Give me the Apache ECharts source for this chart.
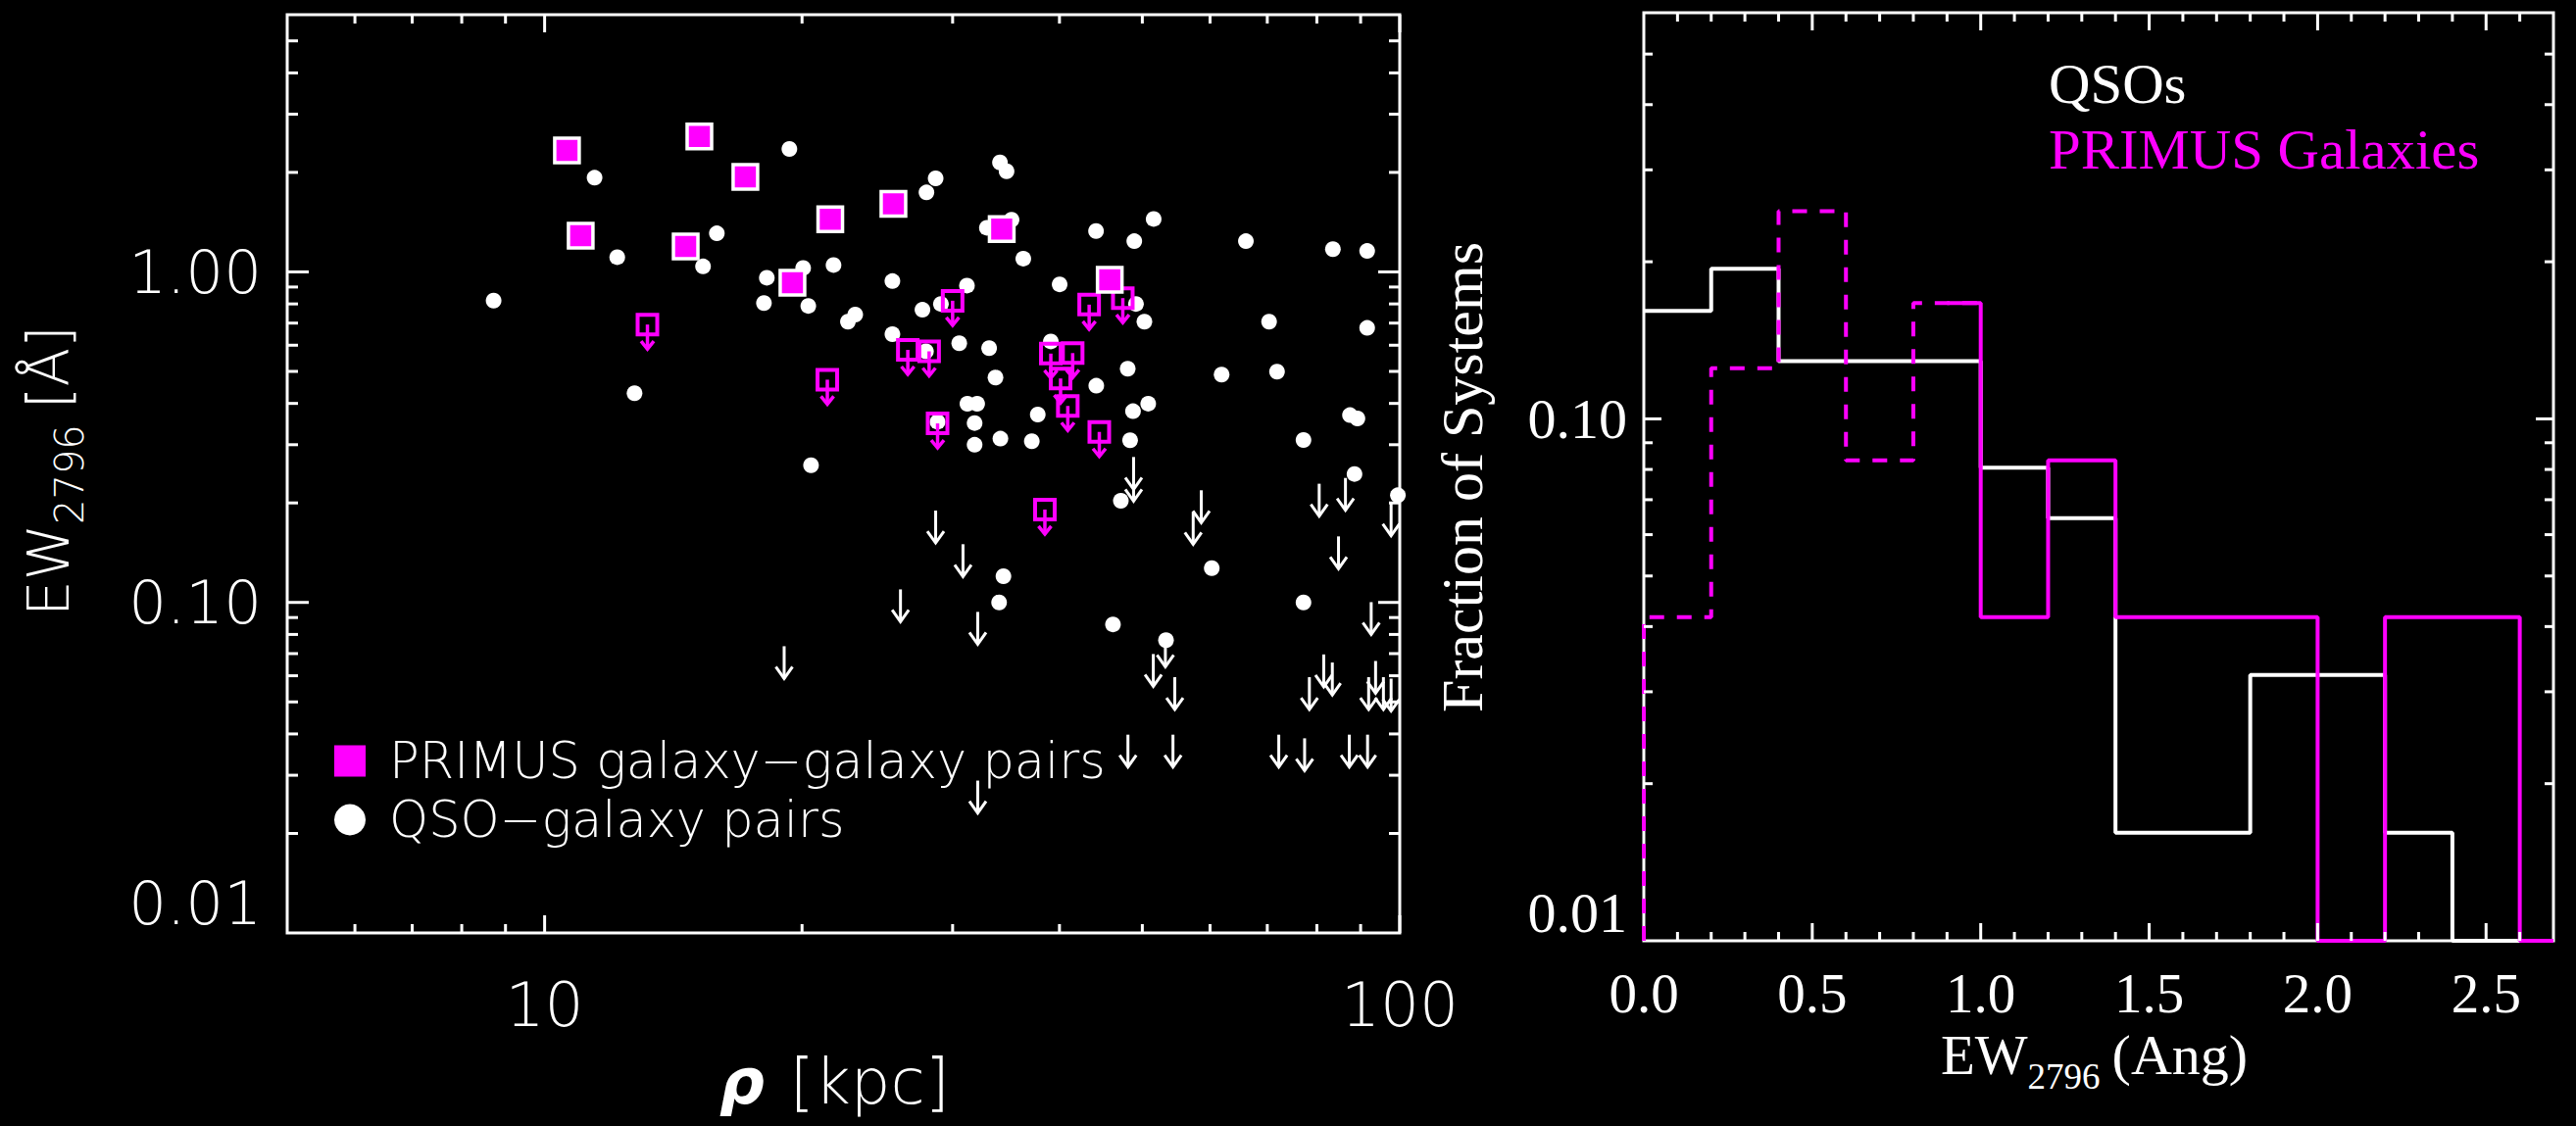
<!DOCTYPE html>
<html>
<head>
<meta charset="utf-8">
<script src="https://cdn.jsdelivr.net/npm/echarts@6/dist/echarts.min.js"></script>
<style>
html,body{margin:0;padding:0;background:#000;}
#chart{width:2628px;height:1149px;}
</style>
</head>
<body>
<div id="chart"></div>
<script>
// ================= DATA =================
// Left panel: impact parameter rho [kpc] vs EW2796 [Å]
const primusDetRho = [10.62, 15.17, 17.17, 11.02, 14.62, 21.58, 25.58, 19.49, 34.24, 45.8];
const primusDetEW  = [2.33, 2.57, 1.94, 1.288, 1.194, 1.443, 1.606, 0.928, 1.347, 0.947];

const primusLimRho = [13.19, 21.41, 26.59, 28.16, 30.0, 28.81, 43.33, 47.44, 39.08, 41.45, 40.12, 40.91, 44.53, 38.46];
const primusLimEW  = [0.693, 0.472, 0.581, 0.575, 0.818, 0.348, 0.796, 0.833, 0.566, 0.568, 0.476, 0.393, 0.328, 0.191];

const qsoDetRho = [11.44, 12.16, 8.717, 15.9, 15.32, 19.33, 18.19, 18.05, 20.06, 20.34,
                   21.77, 23.08, 22.63, 28.66, 27.96, 25.51, 25.51, 27.66, 29.07, 31.18,
                   30.54, 27.92, 12.74, 20.49, 31.22, 32.05, 31.83, 31.83, 28.81, 34.08,
                   34.69, 35.16, 32.9, 36.29, 44.14, 48.93, 51.55, 66.08, 83.53, 91.6,
                   40.02, 49.15, 50.28, 70.34, 91.6, 33.1, 39.08, 33.67, 48.07, 44.17,
                   61.9, 71.86, 34.12, 37.13, 37.73, 48.76, 50.8, 48.38, 87.46, 89.23,
                   77.17, 88.53, 99.5, 34.4, 34.0, 47.19, 46.2, 53.29, 60.28, 77.17];
const qsoDetEW  = [1.927, 1.108, 0.819, 1.308, 1.039, 2.354, 0.96, 0.805, 1.028, 0.789,
                   1.049, 0.743, 0.707, 1.918, 1.74, 0.938, 0.648, 0.768, 0.8, 0.909,
                   0.6085, 0.575, 0.4295, 0.26, 0.399, 0.399, 0.349, 0.300, 0.352, 2.144,
                   2.016, 1.439, 1.36, 1.097, 1.329, 1.239, 1.446, 1.239, 1.172, 1.157,
                   0.917, 0.8, 0.707, 0.707, 0.677, 0.588, 0.616, 0.479, 0.5095, 0.4526,
                   0.489, 0.499, 0.313, 0.3073, 0.3703, 0.379, 0.3993, 0.3094, 0.3687, 0.3602,
                   0.31, 0.2447, 0.211, 0.12, 0.1, 0.203, 0.0858, 0.0769, 0.127, 0.1];

const qsoLimRho = [28.66, 30.85, 26.07, 32.1, 19.06, 32.1, 48.84, 48.84, 58.6, 57.34,
                   80.5, 86.4, 97.7, 84.8, 92.6, 53.2, 51.5, 54.57, 48.1, 54.3,
                   81.5, 83.4, 78.4, 93.7, 91.97, 95.7, 97.7, 72.2, 77.4, 87.3, 91.7];
const qsoLimEW  = [0.1896, 0.150, 0.1095, 0.0936, 0.0737, 0.0289, 0.2754, 0.2538, 0.2184, 0.1879,
                   0.2286, 0.238, 0.1994, 0.1584, 0.1002, 0.080, 0.0698, 0.0594, 0.0398, 0.0398,
                   0.0696, 0.0658, 0.0594, 0.0665, 0.0594, 0.0594, 0.0588, 0.0398, 0.0388, 0.0398, 0.0398];

// Right panel: histograms of EW2796 (bin starts and fractions)
const qsoBinStarts   = [0.0, 0.2, 0.4, 0.6, 0.8, 1.0, 1.2, 1.4, 1.6, 1.8, 2.0, 2.2, 2.4, 2.6];
const qsoFraction    = [0.161, 0.194, 0.129, 0.129, 0.129, 0.0806, 0.0645, 0.0161, 0.0161, 0.0323, 0.0323, 0.0161, 0, 0];
const primusAllBinStarts = [0.0, 0.2, 0.4, 0.6, 0.8];
const primusAllFraction  = [0.0417, 0.125, 0.25, 0.0833, 0.1667];
const primusAllEnd = 1.0;
const primusDetBinStarts = [0.9, 1.0, 1.2, 1.4, 1.6, 1.8, 2.0, 2.2, 2.4, 2.6];
const primusDetFraction  = [0.1667, 0.0417, 0.0833, 0.0417, 0.0417, 0.0417, 0, 0.0417, 0.0417, 0];
const histEnd = 2.7;

// Tick values and labels
const leftXLabelVals = [10, 100];
const leftXLabels    = ['10', '100'];
const leftYLabelVals = [0.01, 0.1, 1];
const leftYLabels    = ['0.01', '0.10', '1.00'];
const leftXMajorTicks = [10, 100];
const leftXMinorTicks = [6, 7, 8, 9, 20, 30, 40, 50, 60, 70, 80, 90];
const leftYMajorTicks = [0.1, 1];
const leftYMinorTicks = [0.02, 0.03, 0.04, 0.05, 0.06, 0.07, 0.08, 0.09, 0.2, 0.3, 0.4, 0.5, 0.6, 0.7, 0.8, 0.9, 2, 3, 4, 5];

const rightXLabelVals = [0, 0.5, 1.0, 1.5, 2.0, 2.5];
const rightXLabels    = ['0.0', '0.5', '1.0', '1.5', '2.0', '2.5'];
const rightYLabelVals = [0.01, 0.1];
const rightYLabels    = ['0.01', '0.10'];
const rightXMajorTicks = [0.5, 1.0, 1.5, 2.0, 2.5];
const rightXMinorTicks = [0.1, 0.2, 0.3, 0.4, 0.6, 0.7, 0.8, 0.9, 1.1, 1.2, 1.3, 1.4, 1.6, 1.7, 1.8, 1.9, 2.1, 2.2, 2.3, 2.4, 2.6];
const rightYMajorTicks = [0.1];
const rightYMinorTicks = [0.02, 0.03, 0.04, 0.05, 0.06, 0.07, 0.08, 0.09, 0.2, 0.3, 0.4, 0.5];

// ================= CHART =================
const WHITE = '#ffffff';
const MAG = '#ff00ff';
const SANS = '"DejaVu Sans"';
const SANSW = 200;
const SERIF = '"Liberation Serif", "Times New Roman", serif';

const L = {xMin: 5, xMax: 100, yMin: 0.01, yMax: 6};
const R = {xMin: 0, xMax: 2.7, yMin: 0.01, yMax: 0.6};

function fmt(vals, labels) {
  return function (v) {
    for (let i = 0; i < vals.length; i++) {
      if (Math.abs(v - vals[i]) <= 1e-6 * Math.abs(vals[i]) + 1e-9) return labels[i];
    }
    return '';
  };
}

function zip(a, b) { return a.map((v, i) => [v, b[i]]); }

function stepData(starts, vals, end, floor, lead) {
  const d = [];
  if (lead) d.push([starts[0], floor]);
  starts.forEach((s, i) => d.push([s, vals[i] > 0 ? vals[i] : floor]));
  const last = vals[vals.length - 1];
  d.push([end, last > 0 ? last : floor]);
  return d;
}

function tickSeries(gi, rng, xMaj, xMin, yMaj, yMin, xLen, yLen) {
  const data = [];
  xMaj.forEach(v => data.push([v, rng.yMin, 0, 1]));
  xMin.forEach(v => data.push([v, rng.yMin, 0, 0]));
  yMaj.forEach(v => data.push([rng.xMin, v, 1, 1]));
  yMin.forEach(v => data.push([rng.xMin, v, 1, 0]));
  return {
    type: 'custom', xAxisIndex: gi, yAxisIndex: gi, silent: true, z: 10,
    encode: {x: 0, y: 1},
    data: data,
    renderItem: function (params, api) {
      const isY = api.value(2) === 1;
      const maj = api.value(3) === 1;
      const st = {stroke: WHITE, lineWidth: 3};
      if (!isY) {
        const v = api.value(0);
        const b = api.coord([v, rng.yMin]);
        const t = api.coord([v, rng.yMax]);
        const len = maj ? xLen[0] : xLen[1];
        return {type: 'group', children: [
          {type: 'line', shape: {x1: b[0], y1: b[1], x2: b[0], y2: b[1] - len}, style: st},
          {type: 'line', shape: {x1: t[0], y1: t[1], x2: t[0], y2: t[1] + len}, style: st}
        ]};
      } else {
        const v = api.value(1);
        const l = api.coord([rng.xMin, v]);
        const r = api.coord([rng.xMax, v]);
        const len = maj ? yLen[0] : yLen[1];
        return {type: 'group', children: [
          {type: 'line', shape: {x1: l[0], y1: l[1], x2: l[0] + len, y2: l[1]}, style: st},
          {type: 'line', shape: {x1: r[0], y1: r[1], x2: r[0] - len, y2: r[1]}, style: st}
        ]};
      }
    }
  };
}

// text helper: parts laid out along a baseline (local coords), optional rotation / stretch
const measureCtx = document.createElement('canvas').getContext('2d');
function fontOf(p) {
  return (p.style || 'normal') + ' ' + (p.weight || 'normal') + ' ' + p.size + 'px ' + (p.family || SANS);
}
function textGroup(x, y, rot, parts, scaleX) {
  let cx = 0;
  const children = parts.map(p => {
    cx += (p.gap || 0);
    const f = fontOf(p);
    measureCtx.font = f;
    const el = {
      type: 'text', x: cx, y: (p.dy || 0) - 0.34 * p.size,
      style: {text: p.t, fill: p.color || WHITE, font: f, align: 'left', verticalAlign: 'middle'}
    };
    cx += measureCtx.measureText(p.t).width;
    return el;
  });
  return {type: 'group', x: x, y: y, rotation: rot, scaleX: scaleX || 1, silent: true, children: children};
}

const chart = echarts.init(document.getElementById('chart'), null, {renderer: 'svg', width: 2628, height: 1149});

const option = {
  backgroundColor: '#000',
  animation: false,
  grid: [
    {left: 293, top: 15, width: 1135, height: 937, show: true, borderColor: WHITE, borderWidth: 3,
     backgroundColor: 'transparent', containLabel: false, outerBoundsMode: 'none'},
    {left: 1677, top: 13, width: 928, height: 947, show: true, borderColor: WHITE, borderWidth: 3,
     backgroundColor: 'transparent', containLabel: false, outerBoundsMode: 'none'}
  ],
  xAxis: [
    {type: 'log', logBase: 10, gridIndex: 0, min: L.xMin, max: L.xMax,
     axisLine: {show: false}, axisTick: {show: false}, splitLine: {show: false}, minorTick: {show: false},
     axisLabel: {show: true, color: WHITE, fontFamily: SANS, fontWeight: SANSW, fontSize: 63, margin: 42,
                 showMinLabel: true, showMaxLabel: true, formatter: fmt(leftXLabelVals, leftXLabels)}},
    {type: 'value', gridIndex: 1, min: R.xMin, max: R.xMax, interval: 0.5,
     axisLine: {show: false}, axisTick: {show: false}, splitLine: {show: false},
     axisLabel: {show: true, color: WHITE, fontFamily: SERIF, fontSize: 57, margin: 25,
                 showMinLabel: true, showMaxLabel: true, formatter: fmt(rightXLabelVals, rightXLabels)}}
  ],
  yAxis: [
    {type: 'log', logBase: 10, gridIndex: 0, min: L.yMin, max: L.yMax,
     axisLine: {show: false}, axisTick: {show: false}, splitLine: {show: false},
     axisLabel: {show: true, color: WHITE, fontFamily: SANS, fontWeight: SANSW, fontSize: 61, margin: 26,
                 showMinLabel: true, showMaxLabel: true, verticalAlignMinLabel: 'bottom',
                 formatter: fmt(leftYLabelVals, leftYLabels)}},
    {type: 'log', logBase: 10, gridIndex: 1, min: R.yMin, max: R.yMax,
     axisLine: {show: false}, axisTick: {show: false}, splitLine: {show: false},
     axisLabel: {show: true, color: WHITE, fontFamily: SERIF, fontSize: 58, margin: 17,
                 showMinLabel: true, showMaxLabel: true, verticalAlignMinLabel: 'bottom',
                 formatter: fmt(rightYLabelVals, rightYLabels)}}
  ],
  legend: {
    show: true, orient: 'vertical', left: 341, top: 751, padding: 0,
    itemWidth: 32, itemHeight: 32, itemGap: 9, selectedMode: false,
    textStyle: {color: WHITE, fontFamily: SANS, fontWeight: SANSW, fontSize: 51, padding: [0, 0, 0, 19]},
    data: [
      {name: 'PRIMUS galaxy\u2212galaxy pairs', icon: 'rect', itemStyle: {color: MAG, borderWidth: 0, opacity: 1}},
      {name: 'QSO\u2212galaxy pairs', icon: 'circle', itemStyle: {color: WHITE, borderWidth: 0, opacity: 1}}
    ]
  },
  series: [
    // ---------- left panel ----------
    {name: 'QSO\u2212galaxy pairs', type: 'scatter', xAxisIndex: 0, yAxisIndex: 0,
     symbol: 'circle', symbolSize: 16, itemStyle: {color: WHITE, opacity: 1}, emphasis: {disabled: true},
     data: zip(qsoDetRho, qsoDetEW), z: 2},
    {name: 'QSO limits', type: 'custom', xAxisIndex: 0, yAxisIndex: 0, encode: {x: 0, y: 1}, z: 3,
     data: zip(qsoLimRho, qsoLimEW),
     renderItem: function (params, api) {
       const p = api.coord([api.value(0), api.value(1)]);
       const st = {stroke: WHITE, lineWidth: 3, fill: null, opacity: 1};
       return {type: 'group', children: [
         {type: 'line', shape: {x1: p[0], y1: p[1], x2: p[0], y2: p[1] + 33}, style: st},
         {type: 'polyline', shape: {points: [[p[0] - 8.5, p[1] + 21], [p[0], p[1] + 33], [p[0] + 8.5, p[1] + 21]]}, style: st}
       ]};
     }},
    {name: 'PRIMUS limits', type: 'custom', xAxisIndex: 0, yAxisIndex: 0, encode: {x: 0, y: 1}, z: 4,
     data: zip(primusLimRho, primusLimEW),
     renderItem: function (params, api) {
       const p = api.coord([api.value(0), api.value(1)]);
       const st = {stroke: MAG, lineWidth: 4, fill: null, opacity: 1};
       return {type: 'group', children: [
         {type: 'rect', shape: {x: p[0] - 10, y: p[1] - 10, width: 20, height: 20}, style: st},
         {type: 'line', shape: {x1: p[0], y1: p[1], x2: p[0], y2: p[1] + 25}, style: {stroke: MAG, lineWidth: 3.5, opacity: 1}},
         {type: 'polyline', shape: {points: [[p[0] - 6.5, p[1] + 17], [p[0], p[1] + 25], [p[0] + 6.5, p[1] + 17]]},
          style: {stroke: MAG, lineWidth: 3.5, fill: null, opacity: 1}}
       ]};
     }},
    {name: 'PRIMUS galaxy\u2212galaxy pairs', type: 'scatter', xAxisIndex: 0, yAxisIndex: 0,
     symbol: 'rect', symbolSize: 25, itemStyle: {color: MAG, borderColor: WHITE, borderWidth: 3.5, opacity: 1},
     emphasis: {disabled: true}, data: zip(primusDetRho, primusDetEW), z: 5},
    tickSeries(0, L, leftXMajorTicks, leftXMinorTicks, leftYMajorTicks, leftYMinorTicks, [18, 9], [22, 11]),
    // ---------- right panel ----------
    {name: 'QSOs', type: 'line', xAxisIndex: 1, yAxisIndex: 1, step: 'end', symbol: 'none', clip: false,
     lineStyle: {color: WHITE, width: 4, opacity: 1}, emphasis: {disabled: true}, z: 2,
     data: stepData(qsoBinStarts, qsoFraction, histEnd, R.yMin, false)},
    {name: 'PRIMUS all', type: 'line', xAxisIndex: 1, yAxisIndex: 1, step: 'end', symbol: 'none', clip: false,
     lineStyle: {color: MAG, width: 4, type: [15, 13], opacity: 1}, emphasis: {disabled: true}, z: 3,
     data: stepData(primusAllBinStarts, primusAllFraction, primusAllEnd, R.yMin, true)},
    {name: 'PRIMUS Galaxies', type: 'line', xAxisIndex: 1, yAxisIndex: 1, step: 'end', symbol: 'none', clip: false,
     lineStyle: {color: MAG, width: 4, opacity: 1}, emphasis: {disabled: true}, z: 4,
     data: stepData(primusDetBinStarts, primusDetFraction, histEnd, R.yMin, false)},
    tickSeries(1, R, rightXMajorTicks, rightXMinorTicks, rightYMajorTicks, rightYMinorTicks, [18, 9], [18, 9])
  ],
  graphic: [
    // left y title: EW_2796 [Å] (rotated, reading upward)
    textGroup(70, 629, Math.PI / 2, [
      {t: 'EW', size: 58, weight: SANSW},
      {t: '2796', dy: 15, size: 40, weight: SANSW},
      {t: '[\u00C5]', gap: 16, size: 58, weight: SANSW}
    ]),
    // left x title: rho [kpc]
    textGroup(734, 1126, 0, [
      {t: '\u03C1', size: 64, weight: 'bold', style: 'italic', family: '"DejaVu Sans"'},
      {t: '[kpc]', gap: 26, size: 64, weight: SANSW}
    ]),
    // right y title
    {type: 'text', x: 1492, y: 487, rotation: Math.PI / 2, silent: true,
     style: {text: 'Fraction of Systems', fill: WHITE, font: '60px ' + SERIF, align: 'center', verticalAlign: 'middle'}},
    // right x title: EW_2796 (Ang)
    textGroup(1980, 1096, 0, [
      {t: 'EW', size: 57, family: SERIF},
      {t: '2796', dy: 15, size: 37, family: SERIF},
      {t: '(Ang)', gap: 12, size: 58, family: SERIF}
    ]),
    // right panel key
    textGroup(2090, 105, 0, [{t: 'QSOs', size: 56, family: SERIF}], 1.05),
    textGroup(2090, 172, 0, [{t: 'PRIMUS Galaxies', size: 56, family: SERIF, color: MAG}], 1.05)
  ]
};

chart.setOption(option);
</script>
</body>
</html>
